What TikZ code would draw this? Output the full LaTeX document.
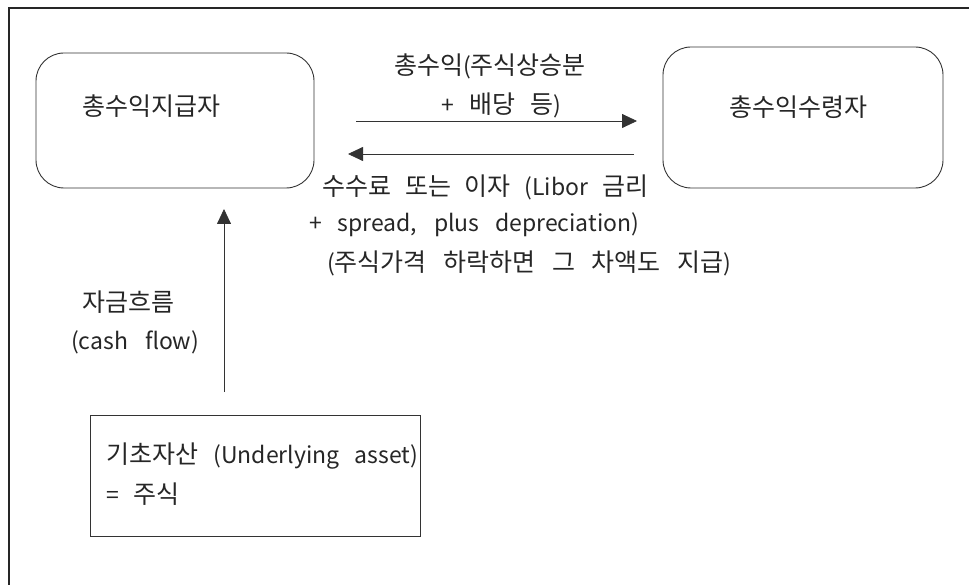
\documentclass[tikz,border=0pt]{standalone}
\usepackage{fontspec}
\setmainfont{Noto Sans CJK KR}
\usetikzlibrary{arrows.meta}
% inter-word space, allowed to stretch so a line can be spread to a set width
\newcommand{\wordgap}{\spaceskip=11pt plus 30pt minus 6pt\relax}
% label font: Latin size
\newcommand{\diaglblfont}{\fontsize{23}{28}\selectfont\wordgap}
% Hangul runs are set a little larger than the Latin
\newcommand{\hg}[1]{{\fontsize{25}{29}\selectfont\wordgap #1}}
% spread a line over a given width by stretching its spaces
\newcommand{\spreadto}[2]{\makebox[#1][s]{#2}}
\begin{document}
\begin{tikzpicture}[x=1pt,y=-1pt,
  frameline/.style={line width=1.3pt, draw=black!85},
  partybox/.style={draw=black!80, line width=0.9pt, rounded corners=28pt, inner sep=0pt},
  assetbox/.style={draw=black!80, line width=0.9pt, inner sep=0pt},
  lbl/.style={inner sep=0pt, anchor=west, text=black!85, font=\diaglblfont},
  flow/.style={draw=black!80, line width=0.8pt, -{Triangle[length=15pt,width=14pt]}}]
\useasboundingbox (0,0) rectangle (969,585);

% open frame: only the top and left edges are drawn
\coordinate (ftr) at (972,8);
\coordinate (ftl) at (9,8);
\coordinate (fbl) at (9,588);
\draw[frameline] (ftr) -- (ftl) -- (fbl);

% the two parties and the underlying asset
\node[partybox, minimum width=278pt, minimum height=135pt] (payer) at (175,120.5) {};
\node[partybox, minimum width=280pt, minimum height=141pt] (receiver) at (803,117.5) {};
\node[assetbox, minimum width=330pt, minimum height=121pt] (asset) at (255,475.5) {};

\node[lbl] (payerlbl) at (82,106) {\hg{총수익지급자}};
\node[lbl] (receiverlbl) at (729,107.5) {\hg{총수익수령자}};

% total return leg
\node[lbl] (ret1) at (394,66) {\hg{총수익}(\hg{주식상승분}};
\node[lbl] (ret2) at (441,105) {\spreadto{120pt}{+ \hg{배당 등})}};
\coordinate (retfrom) at (356,121);
\coordinate (retto) at (637,121);
\draw[flow] (retfrom) -- (retto);

% fee / interest leg
\coordinate (feefrom) at (634,154);
\coordinate (feeto) at (348,154);
\draw[flow] (feefrom) -- (feeto);
\node[lbl] (fee1) at (322,187) {\spreadto{326pt}{\hg{수수료 또는 이자} (Libor \hg{금리}}};
\node[lbl] (fee2) at (309,225) {\spreadto{330pt}{+ spread, plus depreciation)}};
\node[lbl] (fee3) at (327,263) {\spreadto{404pt}{(\hg{주식가격 하락하면 그 차액도 지급})}};

% cash flow from the underlying asset
\coordinate (cffrom) at (224,392);
\coordinate (cfto) at (224,209);
\draw[flow] (cffrom) -- (cfto);
\node[lbl] (cf1) at (82,302) {\hg{자금흐름}};
\node[lbl] (cf2) at (71,342) {\spreadto{128pt}{(cash flow)}};

\node[lbl] (asset1) at (106,456) {\spreadto{312pt}{\hg{기초자산} (Underlying asset)}};
\node[lbl] (asset2) at (106,494) {\spreadto{73pt}{= \hg{주식}}};
\end{tikzpicture}
\end{document}
